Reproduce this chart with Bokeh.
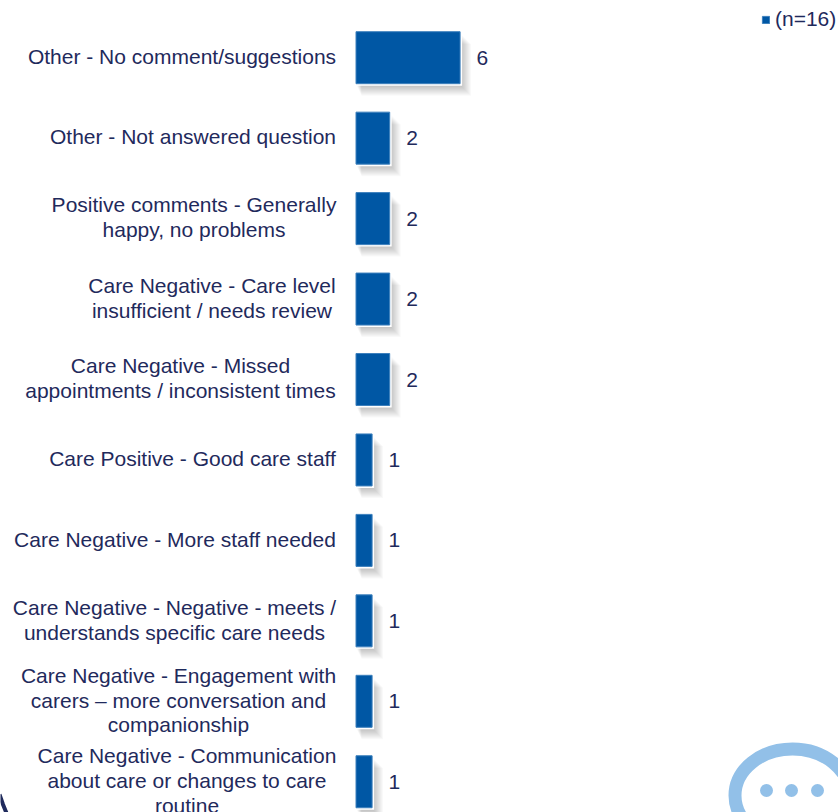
from bokeh.plotting import figure
from bokeh.models import Range1d, ColumnDataSource, Legend, LegendItem
from bokeh.core.properties import value
from bokeh.embed import file_html
from bokeh.resources import INLINE

categories = [
    "Other - No comment/suggestions",
    "Other - Not answered question",
    "Positive comments - Generally\nhappy, no problems",
    "Care Negative - Care level\ninsufficient / needs review",
    "Care Negative - Missed\nappointments / inconsistent times",
    "Care Positive - Good care staff",
    "Care Negative - More staff needed",
    "Care Negative - Negative - meets /\nunderstands specific care needs",
    "Care Negative - Engagement with\ncarers \u2013 more conversation and\ncompanionship",
    "Care Negative - Communication\nabout care or changes to care\nroutine",
]
counts = [6, 2, 2, 2, 2, 1, 1, 1, 1, 1]
series_name = "(n=16)"

# layout, in page pixels
W, H = 838, 812
PAGE = 0
BAR_X0 = 354
PX_PER_UNIT = 17.6
ROW0 = 57.2
ROW_STEP = 80.45
BAR_H_PX = 52
label_centres_px = [182, 193, 194, 212, 180.5, 192.5, 175, 174.5, 178.5, 187]
INK = "#1f2a5c"
BLUE = "#0057a4"
BUBBLE = "#92c0e8"
FONT = "Liberation Sans"

x_range = Range1d((PAGE - BAR_X0) / PX_PER_UNIT, (PAGE + W - BAR_X0) / PX_PER_UNIT)
y_range = Range1d((PAGE + H - ROW0) / ROW_STEP, (PAGE - ROW0) / ROW_STEP)

p = figure(width=W, height=H, x_range=x_range, y_range=y_range,
           output_backend="svg", toolbar_location=None, min_border=0,
           outline_line_color=None, background_fill_color="white",
           border_fill_color="white")
p.axis.visible = False
p.grid.visible = False

rows = list(range(len(categories)))
bar_h = BAR_H_PX / ROW_STEP
left_edge = 1.5 / PX_PER_UNIT

# soft drop shadow behind the bars
for k in range(1, 11):
    dx = (k + 1) / PX_PER_UNIT
    dy = (k + 2) / ROW_STEP
    p.hbar(y=[r + dy for r in rows], left=left_edge + (k + 1) / PX_PER_UNIT / 2,
           right=[c + dx for c in counts],
           height=bar_h, fill_color="#000000", fill_alpha=0.024, line_color=None)

# white halo, then bars
p.hbar(y=[r + 1 / ROW_STEP for r in rows], left=left_edge, right=[c + 2 / PX_PER_UNIT for c in counts],
       height=bar_h + 2 / ROW_STEP, fill_color="white", line_color=None)
bars = p.hbar(y=rows, left=left_edge, right=counts, height=bar_h,
              fill_color=BLUE, line_color="#3d80bd", line_width=1)

src = ColumnDataSource(dict(
    x=counts, y=rows, t=[str(c) for c in counts]))
p.text(x="x", y="y", text="t", source=src, x_offset=22.3, text_align="center",
       text_baseline="middle", text_font=value(FONT), text_font_size="21px", text_color=INK)

lab = ColumnDataSource(dict(
    x=[0] * len(rows), y=rows, t=categories,
    xo=[c - BAR_X0 - 0.5 for c in label_centres_px]))
p.text(x="x", y="y", text="t", source=lab, x_offset="xo", y_offset=-1.2, text_align="center",
       text_baseline="middle", text_font=value(FONT), text_font_size="21px",
       text_color=INK, text_line_height=1.08)

# decorative speech bubble, bottom right
def px_x(v):
    return (v - BAR_X0) / PX_PER_UNIT
def px_y(v):
    return (v - ROW0) / ROW_STEP
p.ellipse(x=[px_x(792)], y=[px_y(795)], width=[115], height=[93], width_units="screen",
          height_units="screen", fill_color="white", line_color=BUBBLE, line_width=13)
p.scatter(x=[px_x(v) for v in (766, 791, 817)], y=[px_y(790)] * 3, size=13,
          fill_color=BUBBLE, line_color=None)

# corner arc, bottom left
p.line(x=[px_x(-1), px_x(2.5), px_x(7)], y=[px_y(794), px_y(804), px_y(815)],
       line_color=INK, line_width=4)

legend = Legend(items=[LegendItem(label=series_name, renderers=[bars])],
                location=(761, 781), border_line_color=None, background_fill_alpha=0,
                glyph_width=9, glyph_height=9, padding=0, margin=0, spacing=0,
                label_text_font=FONT, label_text_font_size="21px", label_text_color=INK,
                label_standoff=5)
p.add_layout(legend, "center")

open("out.html", "w").write(file_html(p, INLINE))
